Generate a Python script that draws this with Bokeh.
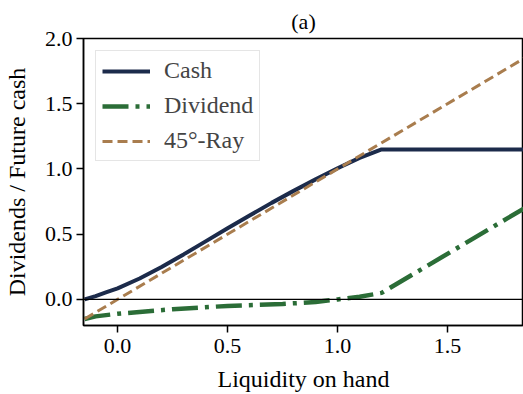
from bokeh.plotting import figure
from bokeh.models import Range1d, Span, Legend, LegendItem, FixedTicker
from bokeh.embed import file_html
from bokeh.resources import INLINE

# Data
cash_x = [-0.15, -0.1, -0.05, 0.0, 0.1, 0.2, 0.3, 0.4, 0.5, 0.6, 0.7, 0.8, 0.9, 1.0, 1.1, 1.2, 1.85]
cash_y = [0.0, 0.025, 0.055, 0.085, 0.16, 0.248, 0.345, 0.445, 0.545, 0.643, 0.74, 0.832, 0.92, 1.005, 1.085, 1.15, 1.15]
div_x = [-0.15, -0.1, 0.0, 0.25, 0.5, 0.75, 0.9, 1.0, 1.1, 1.2, 1.85]
div_y = [-0.15, -0.13, -0.11, -0.075, -0.05, -0.035, -0.02, 0.0, 0.02, 0.05, 0.7]
ray_x = [-0.15, 1.85]
ray_y = [-0.15, 1.85]
x_ticks = [0.0, 0.5, 1.0, 1.5]
y_ticks = [0.0, 0.5, 1.0, 1.5, 2.0]

FONT = "Liberation Serif"
NAVY = "#1c2b4b"
GREEN = "#2b6d37"
TAN = "#a97d4e"

p = figure(width=523, height=394, output_backend="svg", toolbar_location=None,
           x_range=Range1d(-0.155, 1.845), y_range=Range1d(-0.2, 2.0),
           min_border_left=83, min_border_right=0, min_border_top=38, min_border_bottom=69,
           title="(a)")
p.title.align = "center"
p.title.text_font = FONT
p.title.text_font_size = "22px"
p.title.text_font_style = "normal"
p.title.text_color = "black"

p.xgrid.visible = False
p.ygrid.visible = False
p.outline_line_color = "black"
p.outline_line_width = 1.5
p.background_fill_color = "white"
p.border_fill_color = "white"

for ax in (p.xaxis[0], p.yaxis[0]):
    ax.axis_line_color = "black"
    ax.axis_line_width = 1.5
    ax.major_tick_line_color = "black"
    ax.major_tick_line_width = 1.5
    ax.major_tick_out = 7
    ax.major_tick_in = 0
    ax.minor_tick_line_color = None
    ax.major_label_text_font = FONT
    ax.major_label_text_font_size = "22px"
    ax.major_label_text_color = "black"
    ax.axis_label_text_font = FONT
    ax.axis_label_text_font_size = "24px"
    ax.axis_label_text_font_style = "normal"
    ax.axis_label_text_color = "black"

p.xaxis[0].ticker = FixedTicker(ticks=x_ticks)
p.yaxis[0].ticker = FixedTicker(ticks=y_ticks)
p.xaxis[0].major_label_overrides = {t: f"{t:.1f}" for t in x_ticks}
p.yaxis[0].major_label_overrides = {t: f"{t:.1f}" for t in y_ticks}
p.xaxis[0].axis_label = "Liquidity on hand"
p.yaxis[0].axis_label = "Dividends / Future cash"
p.xaxis[0].major_label_standoff = 6
p.yaxis[0].major_label_standoff = 4
p.xaxis[0].axis_label_standoff = 10
p.yaxis[0].axis_label_standoff = 12

p.add_layout(Span(location=0, dimension="width", line_color="black", line_width=1.2))

r_cash = p.line(cash_x, cash_y, line_color=NAVY, line_width=4)
r_div = p.line(div_x, div_y, line_color=GREEN, line_width=4.5, line_dash="26 7 4 7")
r_ray = p.line(ray_x, ray_y, line_color=TAN, line_width=3, line_dash="10 5")

legend = Legend(items=[LegendItem(label="Cash", renderers=[r_cash]),
                       LegendItem(label="Dividend", renderers=[r_div]),
                       LegendItem(label="45°-Ray", renderers=[r_ray])])
legend.location = "top_left"
legend.margin = 12
legend.padding = 6
legend.spacing = 8
legend.glyph_width = 48
legend.glyph_height = 26
legend.label_text_font = FONT
legend.label_text_font_size = "24px"
legend.label_standoff = 14
legend.label_height = 26
legend.border_line_color = "#cccccc"
legend.border_line_width = 1.5
legend.background_fill_alpha = 0.85
p.add_layout(legend)

open("out.html", "w").write(file_html(p, INLINE))
